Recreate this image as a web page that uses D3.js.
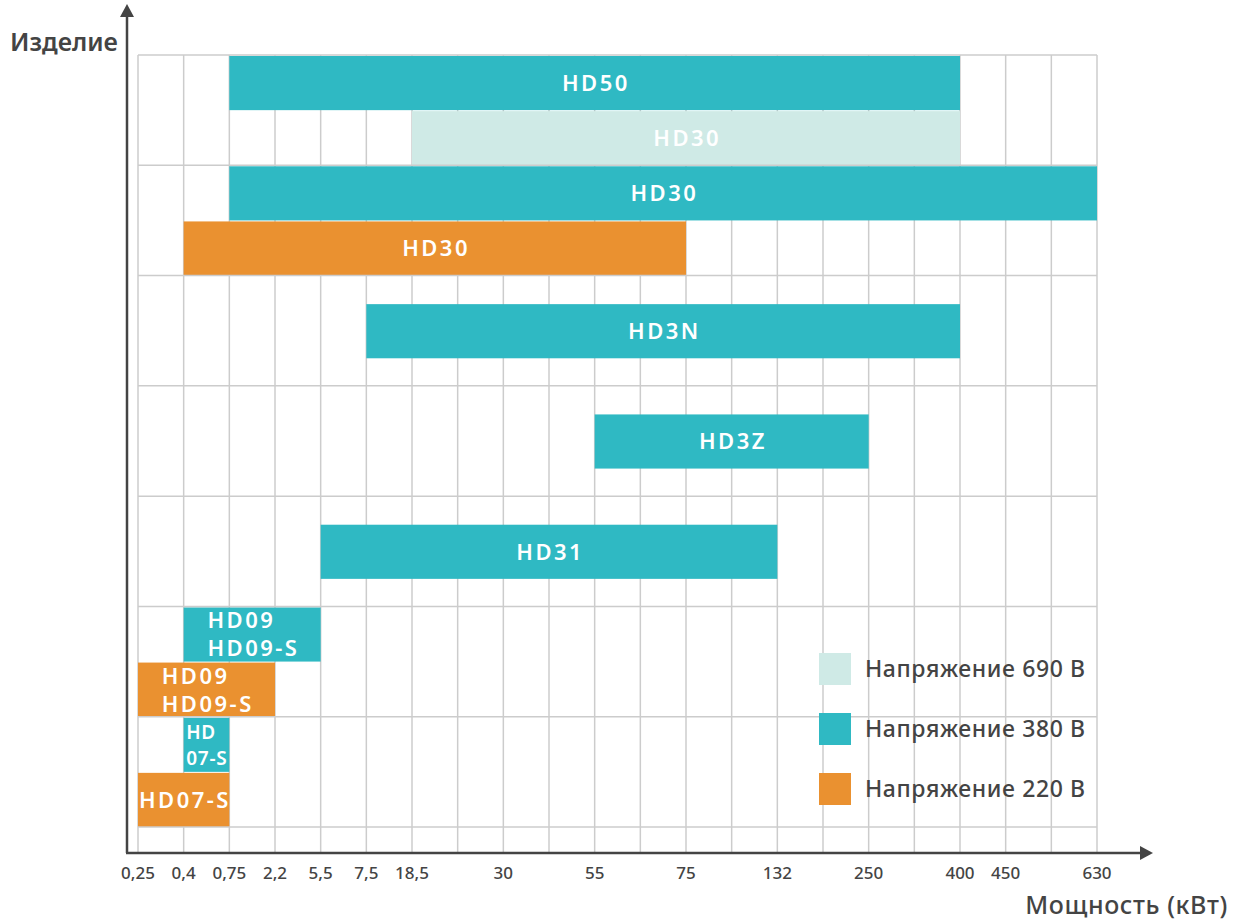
<!DOCTYPE html>
<html>
<head>
<meta charset="utf-8">
<script src="https://cdn.jsdelivr.net/npm/d3@7"></script>
<style>
  body { margin: 0; background: #fff; }
  svg { font-family: "Noto Sans", "Open Sans", sans-serif; }
</style>
</head>
<body>
<div id="chart"></div>
<script>
// grid positions along the power axis, "" = grid line without label
const powerTicks = ["0,25", "0,4", "0,75", "2,2", "5,5", "7,5", "18,5", "", "30", "", "55", "",
                    "75", "", "132", "", "250", "", "400", "450", "", "630"];
const groups = ["HD50/HD30", "HD30", "HD3N", "HD3Z", "HD31", "HD09", "HD07"];
const voltages = ["690", "380", "220"];
const legendLabels = ["Напряжение 690 В", "Напряжение 380 В", "Напряжение 220 В"];

// slot: 0 = upper half of row, 1 = lower half, "mid" = centred
const bars = [
    {lines: ["HD50"], volt: "380", from: "0,75", to: "400", group: "HD50/HD30", slot: 0},
    {lines: ["HD30"], volt: "690", from: "18,5", to: "400", group: "HD50/HD30", slot: 1},
    {lines: ["HD30"], volt: "380", from: "0,75", to: "630", group: "HD30", slot: 0},
    {lines: ["HD30"], volt: "220", from: "0,4", to: "75", group: "HD30", slot: 1},
    {lines: ["HD3N"], volt: "380", from: "7,5", to: "400", group: "HD3N", slot: "mid"},
    {lines: ["HD3Z"], volt: "380", from: "55", to: "250", group: "HD3Z", slot: "mid"},
    {lines: ["HD31"], volt: "380", from: "5,5", to: "132", group: "HD31", slot: "mid"},
    {lines: ["HD09", "HD09-S"], volt: "380", from: "0,4", to: "5,5", group: "HD09", slot: 0},
    {lines: ["HD09", "HD09-S"], volt: "220", from: "0,25", to: "2,2", group: "HD09", slot: 1},
    {lines: ["HD", "07-S"], volt: "380", from: "0,4", to: "0,75", group: "HD07", slot: 0, tight: true},
    {lines: ["HD07-S"], volt: "220", from: "0,25", to: "0,75", group: "HD07", slot: 1}
];

const width = 1237, height = 920;
const plot = {left: 138, right: 1097, top: 55, bottom: 827};
const axisX = 127, axisY = 853;

const svg = d3.select("#chart").append("svg")
    .attr("width", width)
    .attr("height", height);

const x = d3.scaleLinear()
    .domain([0, powerTicks.length - 1])
    .range([plot.left, plot.right]);
const pos = label => x(powerTicks.indexOf(label));

const y = d3.scaleBand()
    .domain(groups)
    .range([plot.top, plot.bottom]);

const color = d3.scaleOrdinal()
    .domain(voltages)
    .range(["#cfeae6", "#2fb9c3", "#ea9130"]);

// vertical grid
svg.append("g")
    .selectAll("line")
    .data(d3.range(powerTicks.length))
    .join("line")
    .attr("x1", d => x(d)).attr("x2", d => x(d))
    .attr("y1", plot.top).attr("y2", axisY)
    .attr("stroke", "#cccccc")
    .attr("stroke-width", 1.5);

// bars
const half = y.bandwidth() / 2;
const barY = d => {
    const b = y(d.group);
    if (d.slot === "mid") return b + half / 2;
    return b + d.slot * half;
};

const barG = svg.append("g")
    .selectAll("g")
    .data(bars)
    .join("g");

barG.append("rect")
    .attr("x", d => pos(d.from))
    .attr("y", d => barY(d) + 1)
    .attr("width", d => pos(d.to) - pos(d.from))
    .attr("height", half - 1)
    .attr("fill", d => color(d.volt));

barG.each(function (d) {
    const g = d3.select(this);
    const x0 = pos(d.from), x1 = pos(d.to);
    const ls = d.tight ? 0.8 : 2.5;
    const lh = d.tight ? 26 : 28;
    const cy = barY(d) + half / 2 + 0.5;
    const t = g.append("text")
        .attr("fill", "#fff")
        .attr("font-size", d.tight ? 19 : 22)
        .attr("font-weight", 600)
        .attr("letter-spacing", ls);
    d.lines.forEach((s, i) => {
        t.append("tspan")
            .attr("x", 0)
            .attr("y", cy + (i - (d.lines.length - 1) / 2) * lh)
            .attr("dy", "0.36em")
            .text(s);
    });
    const w = d3.max(t.selectAll("tspan").nodes(), n => n.getComputedTextLength()) - ls;
    t.selectAll("tspan").attr("x", (x0 + x1) / 2 - w / 2);
});

// horizontal grid on top so row borders stay visible
svg.append("g")
    .selectAll("line")
    .data(groups.map(g => y(g)).concat([plot.bottom]))
    .join("line")
    .attr("x1", plot.left).attr("x2", plot.right)
    .attr("y1", d => d).attr("y2", d => d)
    .attr("stroke", "#cccccc")
    .attr("stroke-width", 1.5);

// tick labels
svg.append("g")
    .selectAll("text")
    .data(powerTicks.map((t, i) => ({t, i})).filter(d => d.t !== ""))
    .join("text")
    .attr("x", d => x(d.i))
    .attr("y", 879)
    .attr("text-anchor", "middle")
    .attr("font-size", 17)
    .attr("font-weight", 500)
    .attr("fill", "#444")
    .text(d => d.t);

// axes with arrows
const ax = svg.append("g").attr("fill", "#444").attr("stroke", "#444");
ax.append("line")
    .attr("x1", axisX).attr("y1", axisY)
    .attr("x2", axisX).attr("y2", 14)
    .attr("stroke-width", 2.5);
ax.append("line")
    .attr("x1", axisX - 1).attr("y1", axisY)
    .attr("x2", 1142).attr("y2", axisY)
    .attr("stroke-width", 2.5);
ax.append("path")
    .attr("stroke", "none")
    .attr("d", `M${axisX},4 L${axisX - 7},17 L${axisX + 7},17 Z`);
ax.append("path")
    .attr("stroke", "none")
    .attr("d", `M1153,${axisY} L1140,${axisY - 7} L1140,${axisY + 7} Z`);

svg.append("text")
    .attr("x", 10).attr("y", 51)
    .attr("font-size", 25)
    .attr("font-weight", 600)
    .attr("fill", "#444")
    .text("Изделие");

svg.append("text")
    .attr("x", 1228).attr("y", 914)
    .attr("text-anchor", "end")
    .attr("font-size", 25)
    .attr("font-weight", 500)
    .attr("letter-spacing", 0.6)
    .attr("fill", "#444")
    .text("Мощность (кВт)");

// legend
const legend = svg.append("g")
    .selectAll("g")
    .data(voltages)
    .join("g")
    .attr("transform", (d, i) => `translate(819,${653 + i * 60})`);
legend.append("rect")
    .attr("width", 32).attr("height", 32)
    .attr("fill", d => color(d));
legend.append("text")
    .attr("x", 46).attr("y", 16)
    .attr("dy", "0.36em")
    .attr("font-size", 23)
    .attr("font-weight", 500)
    .attr("letter-spacing", 0.6)
    .attr("fill", "#444")
    .text((d, i) => legendLabels[i]);
</script>
</body>
</html>
